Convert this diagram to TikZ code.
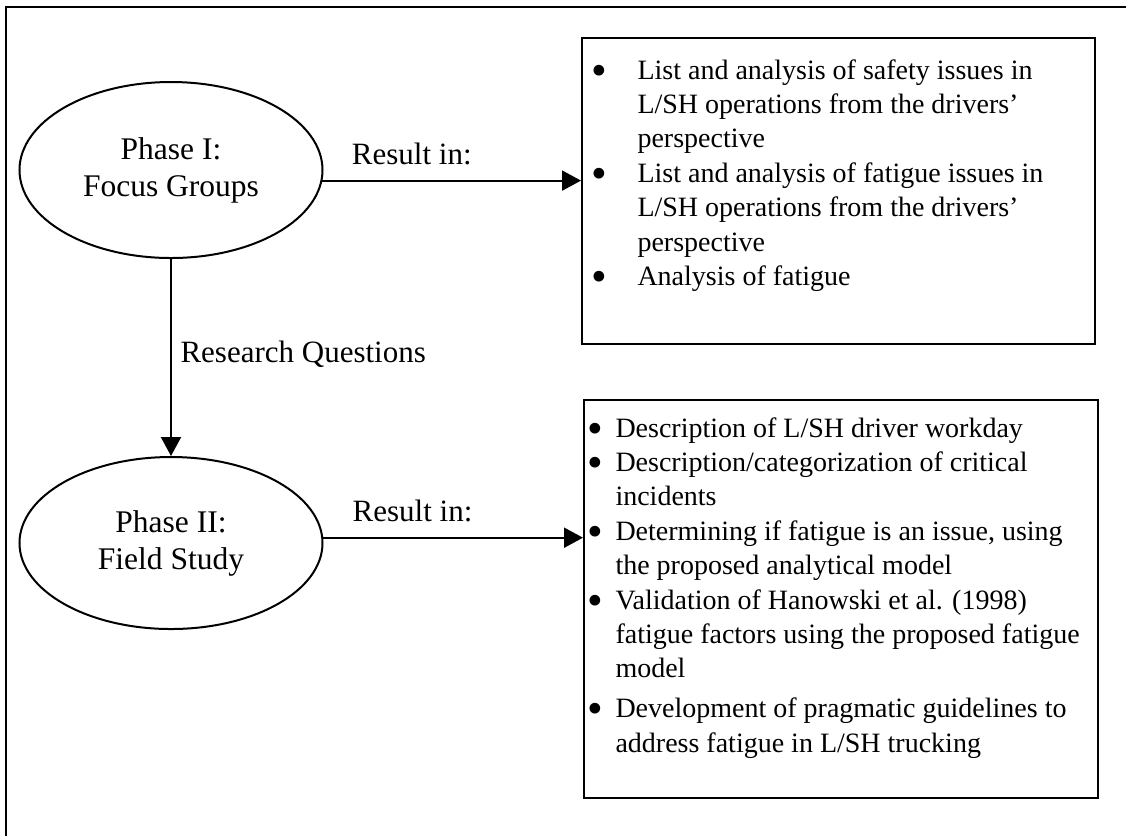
\documentclass[tikz,border=0pt]{standalone}
\usepackage{fontspec}
\setmainfont{Liberation Serif}
\usetikzlibrary{arrows.meta, calc, positioning, shapes.geometric}

\newcommand{\bigdot}{\raisebox{-2.5pt}[0pt][0pt]{\scalebox{1.6}{\textbullet}}}

\begin{document}
\begin{tikzpicture}[x=0.4pt, y=-0.4pt, >={Triangle[length=7.6pt, width=8pt]},
  phase/.style={draw, ellipse, line width=0.8pt, inner sep=0pt, minimum width=121.2pt,
    align=center, font=\fontsize{12.6pt}{14.8pt}\selectfont},
  reslbl/.style={anchor=base west, inner sep=0pt, font=\fontsize{12.4pt}{14.8pt}\selectfont},
  resbox/.style={draw, line width=0.8pt, anchor=north west, inner sep=0pt},
  bullets/.style={anchor=base west, inner sep=0pt, font=\fontsize{11.2pt}{13.76pt}\selectfont},
  link/.style={->, line width=0.8pt}]
  \useasboundingbox (0,0) rectangle (1126,836);
  % 外框（只露出上边和左边）
  \draw[line width=0.8pt] (6,836) -- (6,7) -- (1126,7);
  % 两个阶段
  \node[phase, minimum height=70.4pt] (focus) at (171,170) {Phase I:\\Focus Groups};
  \node[phase, minimum height=68.8pt] (field) at (171,543) {Phase II:\\Field Study};
  % 结果框
  \node[resbox, minimum width=205.2pt, minimum height=122.4pt] (res1) at (581,37) {};
  \node[resbox, minimum width=205.6pt, minimum height=159.2pt] (res2) at (583,399) {};
  \node[bullets] (list1) at ([shift={(10,42)}]res1.north west) {%
    \begin{tabular}[t]{@{}p{18.4pt}@{}l@{}}
      \bigdot & List and analysis of safety issues in\\
              & L/SH operations from the drivers’\\
              & perspective\\
      \bigdot & List and analysis of fatigue issues in\\
              & L/SH operations from the drivers’\\
              & perspective\\
      \bigdot & Analysis of fatigue
    \end{tabular}};
  \node[bullets] (list2) at ([shift={(4,38)}]res2.north west) {%
    \begin{tabular}[t]{@{}p{11.2pt}@{}l@{}}
      \bigdot & Description of L/SH driver workday\\
      \bigdot & Description/categorization of critical\\
              & incidents\\
      \bigdot & Determining if fatigue is an issue, using\\
              & the proposed analytical model\\
      \bigdot & Validation of Hanowski et al. (1998)\\
              & fatigue factors using the proposed fatigue\\
              & model\\[2.2pt]
      \bigdot & Development of pragmatic guidelines to\\
              & address fatigue in L/SH trucking
    \end{tabular}};
  % 连线
  \draw[link] (focus.-4) -- (focus.-4 -| res1.west);
  \draw[link] (field.2) -- (field.2 -| res2.west);
  \draw[link] (focus.south) -- (field.north);
  \node[reslbl] (rin1) at ([shift={(29,-16)}]focus.-4) {Result in:};
  \node[reslbl] (rin2) at ([shift={(29,-16)}]field.2) {Result in:};
  \node[reslbl] (rq) at ([shift={(9,103)}]focus.south) {Research Questions};
\end{tikzpicture}
\end{document}
